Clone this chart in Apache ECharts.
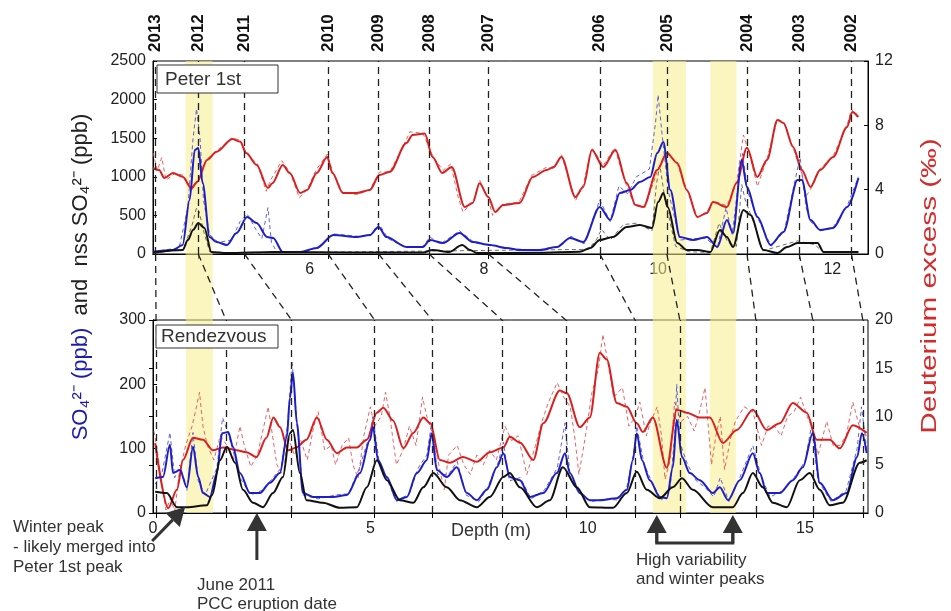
<!DOCTYPE html>
<html><head><meta charset="utf-8">
<script src="https://cdn.jsdelivr.net/npm/echarts@6/dist/echarts.min.js"></script>
<style>html,body{margin:0;padding:0;background:#fff}#c{width:951px;height:611px}</style>
</head><body><div id="c"></div>
<script>
// ---------- DATA ----------
const years = ['2013','2012','2011','2010','2009','2008','2007','2006','2005','2004','2003','2002'];
const yearDepthTop = [4.23,4.72,5.25,6.21,6.79,7.37,8.05,9.33,10.10,11.02,11.62,12.22];
const yearDepthBot = [0.07,1.68,3.19,5.10,6.42,8.03,9.50,11.09,12.12,13.87,15.18,16.33];
const bandsTop = [[4.575,4.885],[9.94,10.32],[10.60,10.90]];
const bandsGap = [[4.575,4.885],[9.94,10.32],[10.60,10.90]];
const bandsBot = [[0.76,1.38],[11.50,12.26],[12.81,13.41]];
const topXLabels = [6,8,10,12];
const botXLabels = [0,5,10,15];

const topRed = [[4.20,5.33],[4.27,5.22],[4.33,4.73],[4.43,5.04],[4.54,4.80],[4.64,4.10],[4.71,4.50],[4.82,5.85],[4.93,6.35],[5.11,7.15],[5.20,6.99],[5.27,6.28],[5.39,5.54],[5.52,4.10],[5.57,4.40],[5.69,5.54],[5.77,5.04],[5.89,3.79],[5.97,3.98],[6.08,5.04],[6.20,6.03],[6.26,5.04],[6.38,3.79],[6.54,3.79],[6.69,3.98],[6.80,4.91],[6.92,5.12],[7.11,6.90],[7.18,7.40],[7.32,7.50],[7.41,6.03],[7.52,5.04],[7.63,5.41],[7.78,2.92],[7.87,3.17],[7.95,4.40],[8.05,3.55],[8.13,2.61],[8.22,3.05],[8.41,3.17],[8.56,4.79],[8.72,5.22],[8.80,5.41],[8.89,6.03],[9.05,3.55],[9.14,4.17],[9.24,6.47],[9.37,5.41],[9.51,6.47],[9.64,4.42],[9.74,3.05],[9.83,2.92],[9.99,5.22],[10.10,6.28],[10.22,5.66],[10.33,3.98],[10.45,2.30],[10.56,2.55],[10.63,3.23],[10.79,2.92],[10.90,4.42],[11.02,6.60],[11.14,4.79],[11.25,5.85],[11.37,8.33],[11.44,8.15],[11.55,6.66],[11.65,5.22],[11.75,4.17],[11.86,5.22],[12.01,6.03],[12.17,7.90],[12.23,8.83],[12.30,8.52]];
const topRedRaw = [[4.2,6.3],[4.25,5.2],[4.3,6.0],[4.35,4.6],[4.45,5.0],[4.55,4.9],[4.65,4.0],[4.72,4.6],[4.82,5.9],[4.93,6.4],[5.1,7.2],[5.2,7.1],[5.28,6.2],[5.4,5.6],[5.5,3.9],[5.55,4.6],[5.68,5.8],[5.78,5.0],[5.88,3.5],[5.97,4.0],[6.07,5.2],[6.2,6.2],[6.27,5.0],[6.38,3.8],[6.54,3.7],[6.69,4.0],[6.8,5.1],[6.92,5.1],[7.1,7.0],[7.15,7.6],[7.3,7.5],[7.42,6.0],[7.53,5.2],[7.62,5.6],[7.7,3.6],[7.76,2.6],[7.88,3.3],[7.95,4.6],[8.05,3.4],[8.1,2.4],[8.22,3.1],[8.4,3.2],[8.55,4.9],[8.72,5.4],[8.8,5.3],[8.89,6.2],[9.0,4.2],[9.05,3.3],[9.14,4.3],[9.24,6.6],[9.37,5.5],[9.5,6.6],[9.62,4.5],[9.73,3.0],[9.85,2.9],[10.0,5.3],[10.1,6.4],[10.22,5.6],[10.33,4.0],[10.45,2.3],[10.56,2.6],[10.63,3.3],[10.79,3.0],[10.9,4.4],[10.98,7.4],[11.05,6.2],[11.14,4.2],[11.25,5.9],[11.37,8.4],[11.44,8.2],[11.55,6.6],[11.65,5.0],[11.7,3.6],[11.78,4.3],[11.86,5.3],[12.01,6.1],[12.17,8.0],[12.22,9.0],[12.3,8.4]];
const topBlue = [[4.20,30],[4.43,52],[4.54,117],[4.62,700],[4.68,1347],[4.72,1373],[4.77,919],[4.85,220],[4.93,155],[5.05,117],[5.16,272],[5.28,480],[5.39,401],[5.51,220],[5.58,207],[5.69,26],[5.89,26],[6.08,78],[6.27,246],[6.54,220],[6.69,246],[6.79,350],[6.88,220],[7.11,91],[7.30,91],[7.38,181],[7.53,142],[7.72,272],[7.87,155],[8.07,117],[8.26,78],[8.41,52],[8.64,52],[8.84,91],[8.99,207],[9.14,155],[9.33,609],[9.45,440],[9.56,790],[9.68,829],[9.79,932],[9.91,997],[9.99,1308],[10.06,1450],[10.14,829],[10.25,220],[10.40,181],[10.56,220],[10.68,91],[10.79,440],[10.86,272],[10.96,1217],[11.02,868],[11.14,480],[11.29,117],[11.44,285],[11.60,958],[11.65,958],[11.75,440],[11.86,311],[12.01,337],[12.17,609],[12.30,984]];
const topBlueRaw = [[4.2,30],[4.5,80],[4.6,600],[4.66,1500],[4.7,1880],[4.74,1500],[4.78,700],[4.85,250],[4.95,150],[5.1,180],[5.2,420],[5.28,520],[5.38,320],[5.45,200],[5.52,600],[5.56,150],[5.62,30],[5.9,20],[6.1,90],[6.27,260],[6.55,230],[6.7,240],[6.79,400],[6.9,200],[7.1,80],[7.3,100],[7.38,220],[7.5,130],[7.72,300],[7.9,140],[8.1,110],[8.3,70],[8.6,50],[8.85,100],[9.0,230],[9.15,130],[9.33,700],[9.45,420],[9.55,880],[9.65,780],[9.75,1000],[9.9,1100],[9.97,1700],[10.0,2060],[10.05,1500],[10.12,800],[10.25,180],[10.4,200],[10.55,200],[10.68,80],[10.78,600],[10.85,250],[10.93,1000],[10.97,1300],[11.03,800],[11.15,450],[11.3,100],[11.45,300],[11.6,1100],[11.63,1250],[11.7,600],[11.75,420],[11.86,300],[12.0,330],[12.17,620],[12.3,1000]];
const topBlack = [[4.20,20],[4.54,52],[4.60,180],[4.66,311],[4.72,401],[4.79,337],[4.87,26],[5.05,13],[5.58,26],[6.50,20],[7.30,20],[7.41,52],[7.60,26],[7.75,117],[7.84,52],[7.92,13],[8.60,15],[9.10,30],[9.22,78],[9.33,181],[9.48,220],[9.64,350],[9.79,375],[9.93,337],[10.00,673],[10.06,790],[10.11,609],[10.22,142],[10.33,52],[10.45,52],[10.60,26],[10.71,311],[10.79,220],[10.86,91],[10.98,570],[11.06,505],[11.21,52],[11.37,13],[11.48,91],[11.60,142],[11.83,142],[11.90,26],[12.30,26]];
const topBlackRaw = [[4.2,10],[4.55,60],[4.65,380],[4.7,600],[4.73,550],[4.78,300],[4.85,30],[5.0,10],[9.2,60],[9.3,200],[9.35,320],[9.45,180],[9.6,380],[9.75,400],[9.93,300],[9.98,900],[10.02,1150],[10.08,700],[10.2,100],[10.35,30],[10.6,20],[10.7,400],[10.8,150],[10.9,100],[10.96,900],[11.0,700],[11.1,400],[11.2,40],[11.6,170],[11.8,120],[11.9,20],[12.3,20]];

const botRed = [[0.05,7.25],[0.35,0.5],[0.55,2.4],[0.69,5.5],[0.92,7.8],[1.15,7.6],[1.38,6.5],[1.61,6.8],[1.92,6.5],[2.15,6.3],[2.38,5.8],[2.61,7.8],[2.77,9.9],[2.92,8.9],[3.11,6.5],[3.30,6.8],[3.53,7.6],[3.77,9.9],[4.00,7.6],[4.23,6.2],[4.46,6.8],[4.69,6.8],[4.92,7.6],[5.15,10.4],[5.30,10.9],[5.52,9.6],[5.76,6.7],[5.99,8.3],[6.22,9.9],[6.38,9.3],[6.60,5.5],[6.83,5.2],[7.13,5.8],[7.45,5.3],[7.75,6.3],[8.06,6.8],[8.21,7.9],[8.44,7.3],[8.75,5.5],[8.98,9.3],[9.36,12.7],[9.52,12.4],[9.82,8.9],[10.05,9.9],[10.28,16.6],[10.44,15.9],[10.67,11.4],[10.90,11.0],[11.13,9.3],[11.27,8.4],[11.50,9.9],[11.82,4.7],[12.05,10.7],[12.28,10.4],[12.58,9.9],[12.81,9.9],[13.11,7.25],[13.43,8.6],[13.80,10.7],[14.12,8.6],[14.42,9.3],[14.72,11.4],[15.04,10.4],[15.27,7.6],[15.57,7.6],[15.80,6.7],[16.10,9.1],[16.42,8.3]];
const botRedRaw = [[0.02,8.5],[0.1,6.5],[0.2,3],[0.3,0.3],[0.4,1.5],[0.5,0.2],[0.6,4],[0.75,7],[0.9,9],[1.0,11],[1.07,12.5],[1.15,9],[1.25,7],[1.4,5.5],[1.55,8],[1.7,7],[1.85,5.5],[2.0,9],[2.1,7],[2.25,4.8],[2.4,6],[2.55,9],[2.65,11],[2.75,8],[2.85,5],[3.0,3.8],[3.1,8],[3.25,6],[3.4,7.5],[3.55,5.5],[3.7,9],[3.8,10.5],[3.95,6.5],[4.1,7],[4.2,5],[4.35,7],[4.5,7.8],[4.6,5],[4.72,3.6],[4.85,8],[5.0,11],[5.1,9],[5.25,10],[5.35,12.5],[5.45,10],[5.6,5],[5.75,6.5],[5.9,9],[6.05,7],[6.2,12],[6.3,10],[6.45,8],[6.55,5.5],[6.7,2.4],[6.8,6],[7.0,7],[7.15,5],[7.3,4],[7.45,6],[7.6,5],[7.75,6.5],[7.9,5.5],[8.1,9],[8.25,7.5],[8.4,8],[8.6,4],[8.8,7],[8.95,9.5],[9.1,11.5],[9.3,13.5],[9.45,12],[9.6,11],[9.7,8],[9.8,4],[9.95,8],[10.1,12.5],[10.25,15],[10.35,18.5],[10.45,16],[10.6,12],[10.8,13],[10.95,9],[11.1,10],[11.2,11.5],[11.35,8],[11.45,9.5],[11.6,11],[11.7,8],[11.78,3.5],[11.9,5.5],[12.0,11.5],[12.15,9.5],[12.3,10],[12.45,8.5],[12.55,10],[12.7,13],[12.85,5],[12.95,8],[13.05,10],[13.15,4.5],[13.3,8],[13.4,9.5],[13.6,11],[13.8,10.5],[14.0,7],[14.15,9],[14.3,9],[14.45,8],[14.6,10],[14.75,10.5],[14.9,12],[15.05,10],[15.15,9],[15.3,6],[15.5,9.5],[15.65,7],[15.8,7],[15.95,8],[16.1,11.5],[16.25,9],[16.42,8]];
const botBlue = [[0.05,54],[0.23,56],[0.39,106],[0.46,62],[0.62,67],[0.78,40],[0.92,103],[1.04,56],[1.15,31],[1.31,25],[1.47,62],[1.59,124],[1.73,126],[1.84,103],[2.00,62],[2.23,31],[2.46,31],[2.69,47],[2.92,62],[3.08,118],[3.15,179],[3.22,218],[3.31,140],[3.45,31],[3.68,25],[4.14,25],[4.46,28],[4.76,62],[4.99,113],[5.06,134],[5.18,82],[5.38,56],[5.61,20],[5.84,25],[6.07,62],[6.30,82],[6.41,124],[6.53,67],[6.76,56],[6.99,71],[7.22,31],[7.45,20],[7.68,36],[7.91,71],[8.06,93],[8.21,56],[8.44,51],[8.67,25],[8.98,31],[9.29,62],[9.48,93],[9.59,62],[9.82,31],[10.05,20],[10.28,20],[10.67,23],[10.90,36],[11.04,82],[11.13,124],[11.25,82],[11.43,51],[11.66,25],[11.82,23],[11.96,71],[12.05,145],[12.17,87],[12.35,62],[12.58,51],[12.88,31],[13.04,40],[13.23,20],[13.50,51],[13.80,93],[13.96,62],[14.12,31],[14.42,31],[14.72,51],[14.95,71],[15.18,124],[15.34,47],[15.64,20],[15.96,31],[16.20,87],[16.31,124],[16.42,93]];
const botBlueRaw = [[0.05,45],[0.2,60],[0.39,125],[0.5,55],[0.62,75],[0.78,35],[0.92,125],[1.04,50],[1.2,28],[1.47,70],[1.6,148],[1.7,130],[1.85,95],[2.0,55],[2.25,28],[2.5,35],[2.7,50],[2.95,70],[3.1,140],[3.2,235],[3.3,150],[3.45,28],[3.8,22],[4.2,28],[4.5,30],[4.75,70],[5.0,125],[5.06,150],[5.2,80],[5.4,50],[5.6,18],[5.9,30],[6.1,70],[6.3,90],[6.41,140],[6.55,60],[6.8,60],[7.0,80],[7.2,28],[7.5,18],[7.7,40],[7.95,80],[8.06,110],[8.2,50],[8.45,55],[8.7,22],[9.0,35],[9.3,70],[9.48,140],[9.6,55],[9.85,28],[10.1,18],[10.4,22],[10.7,20],[10.9,40],[11.05,90],[11.13,135],[11.3,75],[11.5,45],[11.7,20],[11.9,40],[12.0,120],[12.05,200],[12.12,110],[12.3,75],[12.5,50],[12.7,40],[12.9,25],[13.05,55],[13.25,18],[13.5,55],[13.8,105],[14.0,55],[14.2,25],[14.5,35],[14.75,55],[15.0,80],[15.15,135],[15.3,50],[15.6,18],[15.95,35],[16.2,100],[16.3,165],[16.42,100]];
const botBlack = [[0.05,33],[0.32,31],[0.55,9],[0.78,9],[1.24,12],[1.36,28],[1.54,82],[1.70,103],[1.89,78],[2.07,36],[2.30,16],[2.53,9],[2.76,31],[2.99,56],[3.15,124],[3.22,129],[3.38,62],[3.53,20],[3.91,16],[4.30,8],[4.69,9],[4.92,40],[5.15,82],[5.38,51],[5.68,20],[5.99,16],[6.22,40],[6.45,62],[6.76,40],[7.06,20],[7.45,9],[7.75,25],[8.06,56],[8.21,62],[8.44,40],[8.83,9],[9.13,20],[9.43,71],[9.75,40],[10.05,9],[10.58,8],[10.90,31],[11.13,64],[11.36,36],[11.66,23],[11.96,40],[12.17,54],[12.42,36],[12.88,9],[13.34,9],[13.57,31],[13.80,62],[14.03,40],[14.26,16],[14.58,9],[14.88,51],[15.11,62],[15.34,36],[15.57,12],[15.87,16],[16.26,78],[16.42,82]];

// annotation target depths (bottom panel)
const winterArrowDepth = 0.74;
const juneArrowDepth = 2.39;
const highVarDepths = [11.59, 13.34];

// ---------- CHART ----------
const FONT = '"Liberation Sans", Arial, sans-serif';
const RED = '#d91f1f', BLUE = '#1e1ec8', BLACK = '#111111';
const chart = echarts.init(document.getElementById('c'));

function yAx(grid, min, max, interval, pos) {
  return {type:'value', gridIndex:grid, min, max, interval, position:pos,
    axisLine:{show:true, lineStyle:{color:'#000', width:1}},
    axisTick:{show:true, inside:true, length:4, lineStyle:{color:'#000'}},
    axisLabel:{color:'#222', fontSize:16, fontFamily:FONT, margin:7, formatter: v => String(v)},
    splitLine:{show:false}};
}
function ln(data, xi, yi, color, width, dashed, z) {
  return {type:'line', data, xAxisIndex:xi, yAxisIndex:yi, symbol:'none', showSymbol:false,
    smooth: dashed ? false : 0.3, smoothMonotone:'x', silent:true, z,
    lineStyle:{color, width, type: dashed ? [4,3] : 'solid', opacity: dashed ? 0.85 : 1}};
}
function topEdgeAx(grid, min, max, ticks) {
  return {type:'value', gridIndex:grid, min, max, position:'top',
    axisLine:{show:true, lineStyle:{color:'#000'}}, splitLine:{show:false},
    axisTick:{show:true, inside:true, length:5, customValues:ticks, lineStyle:{color:'#000'}},
    axisLabel:{show:false}};
}
const bandStyle = {color:'rgba(247,238,140,0.55)'};
const vlineStyle = {color:'#222', width:1.3, type:[7,5]};

const option = {
  animation:false,
  backgroundColor:'#fff',
  grid:[
    {left:153, top:61, width:715, height:193, show:true, borderColor:'#000', borderWidth:1, backgroundColor:'transparent'},
    {left:153, top:320, width:715, height:193, show:true, borderColor:'#000', borderWidth:1, backgroundColor:'transparent'},
    {left:153, top:254, width:715, height:66, show:false}
  ],
  xAxis:[
    {type:'value', gridIndex:0, min:4.2, max:12.41, position:'bottom',
      axisLine:{lineStyle:{color:'#000'}}, splitLine:{show:false},
      axisTick:{show:true, inside:true, length:5, customValues:yearDepthTop, lineStyle:{color:'#000'}},
      axisLabel:{customValues:topXLabels, color:'#222', fontSize:16, fontFamily:FONT, margin:8}},
    {type:'value', gridIndex:1, min:0, max:16.45, position:'bottom',
      axisLine:{lineStyle:{color:'#000'}}, splitLine:{show:false},
      axisTick:{show:true, inside:true, length:5, customValues:yearDepthBot, lineStyle:{color:'#000'}},
      axisLabel:{customValues:botXLabels, color:'#222', fontSize:16, fontFamily:FONT, margin:8}},
    {type:'value', gridIndex:2, min:4.2, max:12.41, show:false},
    topEdgeAx(0, 4.2, 12.41, yearDepthTop),
    topEdgeAx(1, 0, 16.45, yearDepthBot)
  ],
  yAxis:[
    yAx(0, 0, 2500, 500, 'left'),
    yAx(0, 0, 12, 4, 'right'),
    yAx(1, 0, 300, 100, 'left'),
    yAx(1, 0, 20, 5, 'right'),
    {type:'value', gridIndex:2, min:0, max:1, show:false}
  ],
  series:[
    {type:'line', data:[], xAxisIndex:0, yAxisIndex:0, z:1, silent:true,
      markArea:{silent:true, itemStyle:bandStyle, data:bandsTop.map(b=>[{xAxis:b[0]},{xAxis:b[1]}])},
      markLine:{silent:true, symbol:['none','none'], label:{show:false}, lineStyle:vlineStyle, data:yearDepthTop.map(d=>({xAxis:d}))}},
    {type:'line', data:[], xAxisIndex:1, yAxisIndex:2, z:1, silent:true,
      markArea:{silent:true, itemStyle:bandStyle, data:bandsBot.map(b=>[{xAxis:b[0]},{xAxis:b[1]}])},
      markLine:{silent:true, symbol:['none','none'], label:{show:false}, lineStyle:vlineStyle, data:yearDepthBot.map(d=>({xAxis:d}))}},
    {type:'line', data:[], xAxisIndex:2, yAxisIndex:4, z:1, silent:true,
      markArea:{silent:true, itemStyle:bandStyle, data:bandsGap.map(b=>[{xAxis:b[0]},{xAxis:b[1]}])}},
    ln(topRedRaw, 0, 1, '#e04848', 1, true, 3),
    ln(topBlueRaw, 0, 0, '#4646d6', 1, true, 3),
    ln(topBlackRaw, 0, 0, '#555', 1, true, 3),
    ln(topRed, 0, 1, RED, 2, false, 4),
    ln(topBlue, 0, 0, BLUE, 2, false, 4),
    ln(topBlack, 0, 0, BLACK, 2, false, 4),
    ln(botRedRaw, 1, 3, '#e04848', 1, true, 3),
    ln(botBlueRaw, 1, 2, '#4646d6', 1, true, 3),
    ln(botRed, 1, 3, RED, 2, false, 4),
    ln(botBlue, 1, 2, BLUE, 2, false, 4),
    ln(botBlack, 1, 2, BLACK, 2, false, 4)
  ]
};
chart.setOption(option);

// ---------- GRAPHICS positioned through the axes ----------
const px = (ax, v) => chart.convertToPixel({xAxisIndex:ax}, v);
const py = (ax, v) => chart.convertToPixel({yAxisIndex:ax}, v);
const yTopBottom = py(0, 0), yTopTop = py(0, 2500), yBotTop = py(2, 300), yBotBottom = py(2, 0);
const g = [];
const TXT = '#333';

years.forEach((y, i) => {
  const xt = px(0, yearDepthTop[i]), xb = px(1, yearDepthBot[i]);
  g.push({type:'line', silent:true, z:5, shape:{x1:xt, y1:yTopBottom, x2:xb, y2:yBotTop},
    style:{stroke:'#222', lineWidth:1.3, lineDash:[7,5]}});
  g.push({type:'text', silent:true, z:5, x:xt, y:yTopTop - 9, rotation:Math.PI/2,
    style:{text:y, font:'bold 17px ' + FONT, fill:'#111', align:'left', verticalAlign:'middle'}});
});

function arrow(x1, y1, x2, y2) {
  const dx = x2 - x1, dy = y2 - y1, L = Math.hypot(dx, dy), ux = dx / L, uy = dy / L;
  const hl = 18, hw = 10;
  const bx = x2 - ux * hl, by = y2 - uy * hl;
  return [
    {type:'line', silent:true, z:20, shape:{x1, y1, x2:bx, y2:by}, style:{stroke:'#333', lineWidth:3}},
    {type:'polygon', silent:true, z:20, shape:{points:[[x2, y2], [bx - uy * hw, by + ux * hw], [bx + uy * hw, by - ux * hw]]}, style:{fill:'#333'}}
  ];
}
const wx = px(1, winterArrowDepth);
g.push(...arrow(wx - 33, yBotBottom + 28, wx, yBotBottom - 6));
const jx = px(1, juneArrowDepth);
g.push(...arrow(jx, yBotBottom + 47, jx, yBotBottom));
const h1 = px(1, highVarDepths[0]), h2 = px(1, highVarDepths[1]);
g.push(...arrow(h1, yBotBottom + 30, h1, yBotBottom + 2));
g.push(...arrow(h2, yBotBottom + 30, h2, yBotBottom + 2));
g.push({type:'polyline', silent:true, z:20, shape:{points:[[h1, yBotBottom + 20], [h1, yBotBottom + 30], [h2, yBotBottom + 30], [h2, yBotBottom + 20]]}, style:{stroke:'#333', lineWidth:3, fill:null}});

function txt(x, y, text, size, color, extra) {
  return Object.assign({type:'text', silent:true, z:30, x, y,
    style:{text, font:size + 'px ' + FONT, fill:color || TXT, align:'left', verticalAlign:'middle'}}, extra || {});
}
g.push(txt(13, 527, 'Winter peak', 17));
g.push(txt(13, 547, '- likely merged into', 17));
g.push(txt(13, 567, 'Peter 1st peak', 17));
g.push(txt(197, 585, 'June 2011', 17));
g.push(txt(197, 604, 'PCC eruption date', 17));
g.push(txt(636, 560, 'High variability', 17));
g.push(txt(636, 579, 'and winter peaks', 17));
g.push({type:'text', silent:true, z:30, x:491, y:531,
  style:{text:'Depth (m)', font:'18px ' + FONT, fill:TXT, align:'center', verticalAlign:'middle'}});

// panel labels
g.push({type:'rect', silent:true, z:25, shape:{x:157, y:65, width:121, height:28}, style:{fill:'#fff', stroke:'#333', lineWidth:1}});
g.push(txt(165, 79.5, 'Peter 1st', 19));
g.push({type:'rect', silent:true, z:25, shape:{x:156, y:325, width:122, height:23}, style:{fill:'#fff', stroke:'#333', lineWidth:1}});
g.push(txt(161, 337, 'Rendezvous', 19));

// axis titles
g.push({type:'text', silent:true, z:30, x:81, y:277, rotation:Math.PI/2,
  style:{text:'{b|SO₄²⁻ (ppb)}{k|  and  nss SO₄²⁻ (ppb)}', align:'center', verticalAlign:'middle',
    rich:{b:{fill:'#1c1cb0', font:'22px ' + FONT}, k:{fill:'#222', font:'22px ' + FONT}}}});
g.push({type:'text', silent:true, z:30, x:930, y:286, rotation:Math.PI/2, scaleX:1.35,
  style:{text:'Deuterium excess (‰)', font:'22px ' + FONT, fill:'#d42a2a', align:'center', verticalAlign:'middle'}});

chart.setOption({graphic:{elements:g}});
</script>
</body></html>
